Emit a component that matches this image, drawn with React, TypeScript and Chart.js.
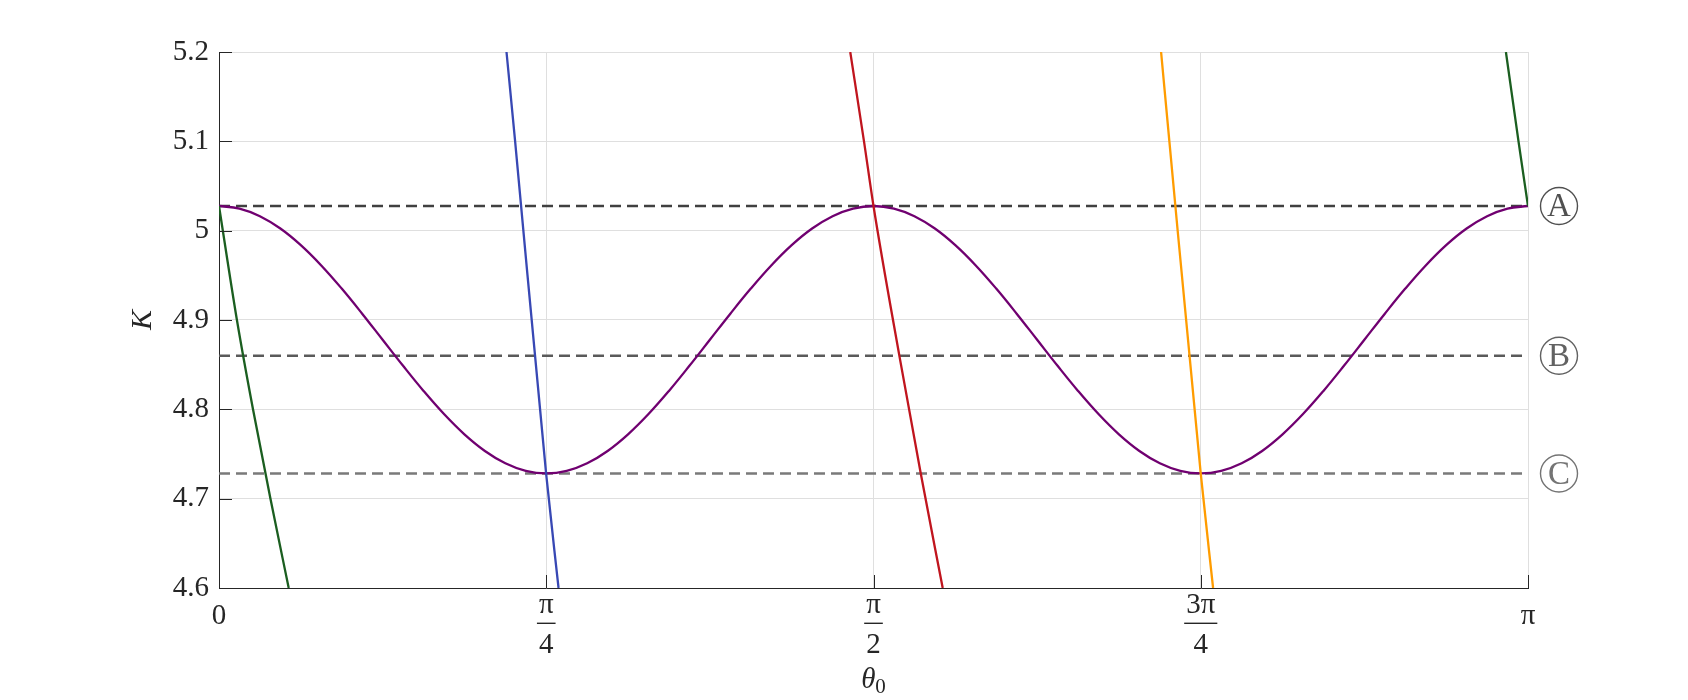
import React, { useEffect, useRef } from 'react';
import { Chart, registerables } from 'chart.js';

Chart.register(...registerables);

const FONT = '"Liberation Serif", "DejaVu Serif", serif';
const TEXT_COLOR = '#262626';

// x tick values (radians) and their fraction labels [numerator, denominator]
const xTickValues = [0, Math.PI / 4, Math.PI / 2, (3 * Math.PI) / 4, Math.PI];
const xTickLabels = [['0'], ['π', '4'], ['π', '2'], ['3π', '4'], ['π']];
const yTickValues = [4.6, 4.7, 4.8, 4.9, 5.0, 5.1, 5.2];

// purple curve K(θ0), sampled every π/64
const purpleTheta = [
  0, 0.0491, 0.0982, 0.1473, 0.1963, 0.2454, 0.2945, 0.3436, 0.3927, 0.4418, 0.4909,
  0.54, 0.589, 0.6381, 0.6872, 0.7363, 0.7854, 0.8345, 0.8836, 0.9327, 0.9817, 1.0308,
  1.0799, 1.129, 1.1781, 1.2272, 1.2763, 1.3254, 1.3744, 1.4235, 1.4726, 1.5217, 1.5708,
  1.6199, 1.669, 1.7181, 1.7671, 1.8162, 1.8653, 1.9144, 1.9635, 2.0126, 2.0617, 2.1108,
  2.1598, 2.2089, 2.258, 2.3071, 2.3562, 2.4053, 2.4544, 2.5035, 2.5525, 2.6016, 2.6507,
  2.6998, 2.7489, 2.798, 2.8471, 2.8962, 2.9452, 2.9943, 3.0434, 3.0925, 3.1416,
];
const purpleK = [
  5.0276, 5.0247, 5.0162, 5.0024, 4.9838, 4.9611, 4.9352, 4.9071, 4.8779, 4.8487, 4.8206,
  4.7947, 4.772, 4.7534, 4.7396, 4.7311, 4.7282, 4.7311, 4.7396, 4.7534, 4.772, 4.7947,
  4.8206, 4.8487, 4.8779, 4.9071, 4.9352, 4.9611, 4.9838, 5.0024, 5.0162, 5.0247, 5.0276,
  5.0247, 5.0162, 5.0024, 4.9838, 4.9611, 4.9352, 4.9071, 4.8779, 4.8487, 4.8206, 4.7947,
  4.772, 4.7534, 4.7396, 4.7311, 4.7282, 4.7311, 4.7396, 4.7534, 4.772, 4.7947, 4.8206,
  4.8487, 4.8779, 4.9071, 4.9352, 4.9611, 4.9838, 5.0024, 5.0162, 5.0247, 5.0276,
];

// steep branches
const greenLeftTheta = [0, 0.043, 0.0816, 0.1235, 0.1673];
const greenLeftK = [5.0276, 4.9, 4.8, 4.7, 4.6];
const greenRightTheta = [3.0886, 3.1188, 3.1416];
const greenRightK = [5.2, 5.1, 5.0276];
const blueTheta = [0.69, 0.7107, 0.7851, 0.8149];
const blueK = [5.2, 5.1, 4.728, 4.6];
const redTheta = [1.515, 1.548, 1.5708, 1.6327, 1.684, 1.7369];
const redK = [5.2, 5.1, 5.0276, 4.8604, 4.7287, 4.6];
const orangeTheta = [2.261, 2.2809, 2.3562, 2.3858];
const orangeK = [5.2, 5.1, 4.728, 4.6];

// reference levels
const levelNames = ['A', 'B', 'C'];
const levelK = [5.0276, 4.86, 4.7282];
const levelColors = ['#404040', '#5a5a5a', '#7a7a7a'];
const letterColors = ['#505050', '#626262', '#747474'];

const toPts = (xs: number[], ys: number[]) => xs.map((x, i) => ({ x, y: ys[i] }));

const decorPlugin = {
  id: 'decor',
  afterDraw(chart: any) {
    const { ctx, chartArea, scales } = chart;
    const xs = scales.x;
    const ys = scales.y;
    ctx.save();
    // inward tick marks
    ctx.strokeStyle = TEXT_COLOR;
    ctx.lineWidth = 1;
    ctx.beginPath();
    yTickValues.forEach((v) => {
      const py = Math.round(ys.getPixelForValue(v)) + 0.5;
      ctx.moveTo(chartArea.left, py);
      ctx.lineTo(chartArea.left + 13, py);
    });
    xTickValues.forEach((v) => {
      const px = Math.round(xs.getPixelForValue(v)) + 0.5;
      ctx.moveTo(px, chartArea.bottom);
      ctx.lineTo(px, chartArea.bottom - 13);
    });
    ctx.stroke();

    // x tick labels (fractions)
    ctx.fillStyle = TEXT_COLOR;
    ctx.textAlign = 'center';
    ctx.textBaseline = 'alphabetic';
    ctx.font = `29px ${FONT}`;
    const b = chartArea.bottom;
    xTickLabels.forEach((lab, i) => {
      const px = xs.getPixelForValue(xTickValues[i]);
      if (lab.length === 1) {
        ctx.fillText(lab[0], px, b + 36);
      } else {
        ctx.fillText(lab[0], px, b + 25);
        ctx.fillText(lab[1], px, b + 64.5);
        const w = Math.max(ctx.measureText(lab[0]).width, ctx.measureText(lab[1]).width) + 4;
        ctx.fillRect(px - w / 2, b + 34.6, w, 1.4);
      }
    });

    // x title θ0
    const cx = xs.getPixelForValue(Math.PI / 2);
    ctx.textAlign = 'left';
    ctx.font = `italic 29px ${FONT}`;
    const w1 = ctx.measureText('θ').width;
    ctx.font = `21px ${FONT}`;
    const w2 = ctx.measureText('0').width;
    const sx = cx - (w1 + w2) / 2;
    ctx.font = `italic 29px ${FONT}`;
    ctx.fillText('θ', sx, b + 100);
    ctx.font = `21px ${FONT}`;
    ctx.fillText('0', sx + w1, b + 105);

    // circled level labels
    levelNames.forEach((name, i) => {
      const py = ys.getPixelForValue(levelK[i]);
      const px = chartArea.right + 31;
      ctx.strokeStyle = letterColors[i];
      ctx.lineWidth = 1.4;
      ctx.beginPath();
      ctx.arc(px, py, 18.5, 0, Math.PI * 2);
      ctx.stroke();
      ctx.fillStyle = letterColors[i];
      ctx.font = `33px ${FONT}`;
      ctx.textAlign = 'center';
      ctx.textBaseline = 'middle';
      ctx.fillText(name, px, py + 1.5);
    });
    ctx.restore();
  },
};

export default function App() {
  const ref = useRef<HTMLCanvasElement | null>(null);
  useEffect(() => {
    if (!ref.current) return;
    const lineDs = (label: string, data: any[], color: string, extra: any = {}) => ({
      label,
      data,
      borderColor: color,
      backgroundColor: color,
      borderWidth: 2.3,
      pointRadius: 0,
      fill: false,
      ...extra,
    });
    const smooth = { cubicInterpolationMode: 'monotone' };
    const datasets: any[] = [
      lineDs('green-left', toPts(greenLeftTheta, greenLeftK), '#1b5e20', smooth),
      lineDs('green-right', toPts(greenRightTheta, greenRightK), '#1b5e20', smooth),
      lineDs('blue', toPts(blueTheta, blueK), '#3848b4', smooth),
      lineDs('red', toPts(redTheta, redK), '#c0151e', smooth),
      lineDs('orange', toPts(orangeTheta, orangeK), '#ff9c00', smooth),
      lineDs('K', toPts(purpleTheta, purpleK), '#700070', { tension: 0.4 }),
      ...levelNames.map((n, i) =>
        lineDs(n, [{ x: 0, y: levelK[i] }, { x: Math.PI, y: levelK[i] }], levelColors[i], {
          borderDash: [11, 6],
          borderWidth: 2.4,
        })
      ),
    ];
    const chart = new Chart(ref.current, {
      type: 'line',
      data: { datasets },
      options: {
        animation: false,
        responsive: true,
        maintainAspectRatio: false,
        layout: { padding: { top: 52, right: 160, bottom: 0, left: 0 } },
        plugins: { legend: { display: false }, tooltip: { enabled: false } },
        scales: {
          x: {
            type: 'linear',
            min: 0,
            max: Math.PI,
            afterBuildTicks: (s: any) => {
              s.ticks = xTickValues.map((v) => ({ value: v }));
            },
            afterFit: (s: any) => {
              s.height = 112;
            },
            ticks: { display: false },
            grid: { color: '#dfdfdf', lineWidth: 1, drawTicks: false },
            border: { display: true, color: TEXT_COLOR, width: 1 },
          },
          y: {
            type: 'linear',
            min: 4.6,
            max: 5.2,
            afterBuildTicks: (s: any) => {
              s.ticks = yTickValues.map((v) => ({ value: v }));
            },
            afterFit: (s: any) => {
              s.width = 219;
            },
            ticks: {
              color: TEXT_COLOR,
              font: { family: FONT, size: 29 },
              padding: 10,
              callback: (v: any) => String(Number(Number(v).toFixed(1))),
            },
            grid: { color: '#dfdfdf', lineWidth: 1, drawTicks: false },
            border: { display: true, color: TEXT_COLOR, width: 1 },
            title: {
              display: true,
              text: 'K',
              color: TEXT_COLOR,
              font: { family: FONT, size: 30, style: 'italic' },
              padding: { top: 125, bottom: 0 },
            },
          },
        },
      },
      plugins: [decorPlugin],
    });
    return () => chart.destroy();
  }, []);
  return (
    <div style={{ position: 'fixed', left: 0, top: 0, width: 1688, height: 700, background: '#fff' }}>
      <canvas ref={ref} />
    </div>
  );
}
